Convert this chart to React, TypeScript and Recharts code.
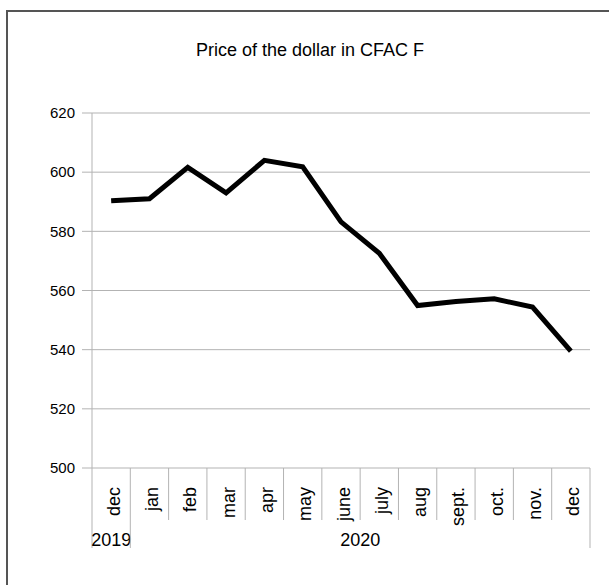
import React from 'react';
import { LineChart, Line, XAxis, YAxis, CartesianGrid } from 'recharts';

// month labels along the bottom, with the year each one belongs to
const months = ['dec', 'jan', 'feb', 'mar', 'apr', 'may', 'june', 'july', 'aug', 'sept.', 'oct.', 'nov.', 'dec'];
const monthYears = ['2019', '2020', '2020', '2020', '2020', '2020', '2020', '2020', '2020', '2020', '2020', '2020', '2020'];

// price of the dollar in CFA francs
const prices = [590.3, 591.0, 601.6, 593.0, 604.0, 601.8, 583.2, 572.6, 554.9, 556.3, 557.2, 554.4, 539.5];

const yTicks = [500, 520, 540, 560, 580, 600, 620];

const data = months.map((m, i) => ({
  key: `${m}-${monthYears[i]}`,
  price: prices[i],
}));

const FONT = '"Liberation Sans", Arial, sans-serif';
const GRID = '#b3b3b3';

function MonthTick(props: any) {
  const { x, y, payload } = props;
  const index: number = payload?.index ?? props.index ?? 0;
  const half: number = payload?.offset || 19.15;
  const left = x - half;
  const year = monthYears[index];
  const startsYear = index === 0 || monthYears[index - 1] !== year;
  const isLast = index === months.length - 1;
  const groupSize = monthYears.filter((yy) => yy === year).length;

  return (
    <g>
      <line x1={left} y1={y} x2={left} y2={y + (startsYear ? 80 : 52)} stroke={GRID} />
      {isLast && <line x1={x + half} y1={y} x2={x + half} y2={y + 80} stroke={GRID} />}
      <text
        transform={`translate(${x + 2.5}, ${y + 19}) rotate(-90)`}
        textAnchor="end"
        dominantBaseline="central"
        style={{ fontFamily: FONT, fontSize: 18 }}
        fill="#000"
      >
        {months[index]}
      </text>
      {startsYear && (
        <text
          x={left + groupSize * half}
          y={y + 78}
          textAnchor="middle"
          style={{ fontFamily: FONT, fontSize: 18 }}
          fill="#000"
        >
          {year}
        </text>
      )}
    </g>
  );
}

export default function App() {
  return (
    <div
      style={{
        position: 'fixed',
        left: 0,
        top: 0,
        width: 609,
        height: 585,
        overflow: 'hidden',
        background: '#fff',
        fontFamily: FONT,
      }}
    >
      <div
        style={{
          position: 'absolute',
          left: 6,
          top: 10,
          width: 700,
          height: 700,
          borderLeft: '2px solid #555',
          borderTop: '2px solid #555',
        }}
      />
      <div
        style={{
          position: 'absolute',
          left: 0,
          top: 40,
          width: 620,
          textAlign: 'center',
          fontSize: 18,
          lineHeight: '20px',
          color: '#000',
        }}
      >
        Price of the dollar in CFAC F
      </div>
      <div style={{ position: 'absolute', left: 0, top: 0 }}>
        <LineChart width={609} height={585} data={data} margin={{ top: 113, right: 19, left: 0, bottom: 37 }}>
          <CartesianGrid vertical={false} stroke={GRID} />
          <XAxis
            dataKey="key"
            scale="band"
            interval={0}
            height={80}
            axisLine={false}
            tickLine={false}
            tickSize={0}
            tickMargin={0}
            tick={<MonthTick />}
          />
          <YAxis
            domain={[500, 620]}
            ticks={yTicks}
            interval={0}
            width={92}
            tickSize={10}
            tickMargin={7}
            axisLine={{ stroke: GRID }}
            tickLine={{ stroke: GRID }}
            tick={{ fill: '#000', fontSize: 15, fontFamily: FONT }}
          />
          <YAxis
            yAxisId="frame"
            orientation="right"
            width={0}
            tick={false}
            tickLine={false}
            axisLine={{ stroke: GRID }}
          />
          <Line
            type="linear"
            dataKey="price"
            stroke="#000"
            strokeWidth={5}
            dot={false}
            isAnimationActive={false}
          />
        </LineChart>
      </div>
    </div>
  );
}
